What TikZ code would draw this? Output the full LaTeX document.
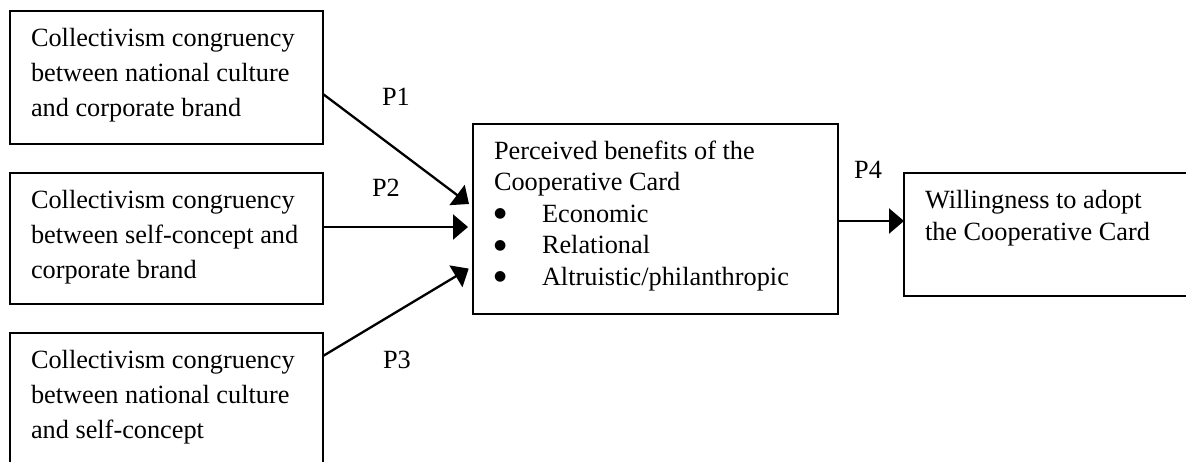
\documentclass[tikz,border=0pt]{standalone}
\usepackage{fontspec}
\setmainfont{Liberation Serif}
\newfontfamily\bulletfont{DejaVu Sans}
\usetikzlibrary{arrows.meta,calc}

% body text of a fixed-size box: width, height, line spacing, text
\newcommand{\boxbody}[4]{%
  \parbox[t][#2][t]{#1}{\raggedright\leftskip=10.5pt
    \setlength{\baselineskip}{#3}%
    \rule{0pt}{17.5pt}#4}}
\newcommand{\itembullet}{\makebox[24pt][l]{\raisebox{2.2pt}{\bulletfont\fontsize{7pt}{7pt}\selectfont ●}}}

\begin{document}
\begin{tikzpicture}[x=0.5pt,y=-0.5pt,
  box/.style={draw, line width=0.85pt, inner sep=0pt, outer sep=0pt,
    anchor=north west, font=\fontsize{13.15pt}{17.5pt}\selectfont},
  plabel/.style={font=\fontsize{13.15pt}{15pt}\selectfont, inner sep=0pt},
  arr/.style={line width=1.15pt, -{Triangle[length=7.5pt,width=12.5pt]}}]
\clip (0,0) rectangle (1186,461);

% antecedent boxes
\node[box] (b1) at (10,11) {\boxbody{156.5pt}{66.5pt}{17.5pt}{Collectivism congruency\\between national culture\\and corporate brand}};
\node[box] (b2) at (10,173) {\boxbody{156.5pt}{65.5pt}{17.5pt}{Collectivism congruency\\between self-concept and\\corporate brand}};
\node[box] (b3) at (10,333) {\boxbody{156.5pt}{72pt}{17.5pt}{Collectivism congruency\\between national culture\\and self-concept}};

% mediator and outcome
\node[box] (cen) at (473,124) {\boxbody{182.5pt}{95pt}{15.75pt}{Perceived benefits of the\\Cooperative Card\\\itembullet Economic\\\itembullet Relational\\\itembullet Altruistic/philanthropic}};
\node[box] (rb) at (904,173) {\boxbody{152pt}{61.5pt}{16pt}{Willingness to adopt\\the Cooperative Card}};

% propositions
\draw[arr, shorten >=2.5pt] ($(b1.north east)+(0,83)$) -- ($(cen.north west)+(0,83)$);
\draw[arr, shorten >=2.5pt] ($(b2.north east)+(0,54)$) -- ($(cen.north west)+(0,103)$);
\draw[arr, shorten >=2.5pt] ($(b3.north east)+(0,23)$) -- ($(cen.north west)+(0,142)$);
\draw[arr] ($(cen.north east)+(0,97)$) -- ($(rb.north west)+(0,48)$);

\node[plabel] (p1) at (396,97) {P1};
\node[plabel] (p2) at (386,188) {P2};
\node[plabel] (p3) at (397,360) {P3};
\node[plabel] (p4) at (868,170) {P4};
\end{tikzpicture}
\end{document}
